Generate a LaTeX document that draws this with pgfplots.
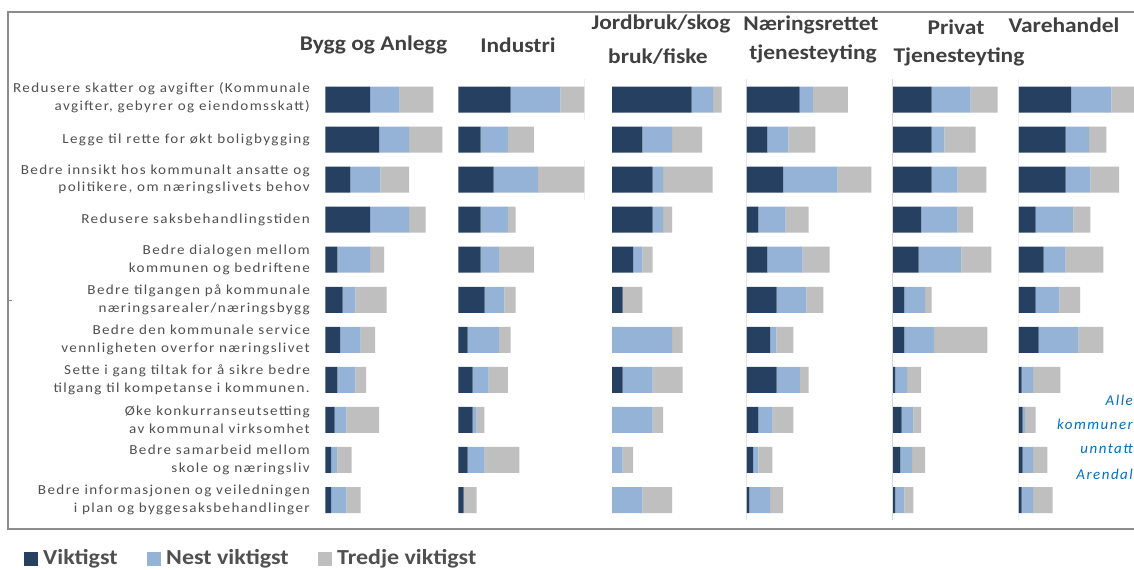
\documentclass[border=0pt]{standalone}
\usepackage{pgfplots}
\pgfplotsset{compat=1.18}
\usepackage{pgfplotstable}
\usepackage{fontspec}
\setmainfont{Carlito}
\newfontfamily\labfont[LetterSpace=10,FakeStretch=1.1]{Carlito}
\newfontfamily\titfont[FakeStretch=1.12]{Carlito}
\newfontfamily\notefont[LetterSpace=10]{Carlito}
\definecolor{cdark}{HTML}{254061}
\definecolor{clight}{HTML}{95B3D7}
\definecolor{cgray}{HTML}{BFBFBF}
\definecolor{labc}{HTML}{505050}
\definecolor{titc}{HTML}{404040}
\definecolor{notec}{HTML}{0070C0}
\definecolor{framec}{HTML}{8C8C8C}
\definecolor{axc}{HTML}{D9D9D9}

% values in pixel lengths of the original chart: Viktigst (a), Nest viktigst (b), Tredje viktigst (c)
\pgfplotstableread{
r a b c
1 44.7 29.7 33.7
2 53.7 30.0 33.3
3 25.0 30.0 28.7
4 44.7 39.0 16.7
5 12.0 32.7 14.0
6 17.3 12.7 31.3
7 14.7 20.7 14.3
8 12.0 18.0 10.7
9 9.3 11.7 32.7
10 5.7 6.3 14.3
11 5.7 15.3 14.3
}\tBygg
\pgfplotstableread{
r a b c
1 52.3 49.7 30.0
2 22.3 27.3 26.0
3 35.3 44.3 52.0
4 22.3 27.3 7.7
5 22.3 18.3 35.0
6 26.3 19.7 11.3
7 9.3 31.3 11.7
8 14.3 16.0 19.3
9 14.3 4.0 7.7
10 9.3 17.0 34.7
11 5.3 0.0 13.0
}\tInd
\pgfplotstableread{
r a b c
1 79.7 21.3 8.7
2 30.3 29.7 30.0
3 40.7 10.3 49.7
4 40.7 10.3 9.0
5 21.0 9.3 10.3
6 10.7 0.0 19.7
7 0.0 60.0 10.7
8 10.7 30.0 30.0
9 0.0 40.7 10.3
10 0.0 10.7 10.3
11 0.0 30.3 29.7
}\tJord
\pgfplotstableread{
r a b c
1 53.3 13.3 35.0
2 21.0 21.0 27.0
3 36.7 54.7 33.7
4 12.0 27.3 23.0
5 21.0 35.3 27.0
6 30.3 29.7 17.0
7 23.7 6.3 17.0
8 30.3 23.3 8.7
9 12.0 14.3 20.7
10 6.7 5.3 14.0
11 3.0 20.7 13.0
}\tNaer
\pgfplotstableread{
r a b c
1 39.7 39.0 27.0
2 39.7 12.7 31.3
3 39.7 26.0 28.7
4 29.0 36.7 15.3
5 26.7 42.7 30.0
6 12.3 20.7 6.7
7 12.3 29.7 53.3
8 3.0 12.0 14.0
9 9.7 11.7 7.7
10 8.3 11.7 13.0
11 3.0 9.3 9.0
}\tPriv
\pgfplotstableread{
r a b c
1 52.3 40.3 30.0
2 47.0 23.3 17.3
3 47.0 24.7 28.7
4 17.0 37.7 17.0
5 25.0 22.0 37.7
6 17.0 23.7 20.7
7 20.0 40.0 24.7
8 3.0 11.3 27.3
9 4.0 2.3 10.7
10 4.0 10.3 14.3
11 3.0 11.3 19.7
}\tVare

\pgfplotsset{panel/.style={xbar stacked, x=1bp, y=40.05bp, y dir=reverse,
  xmin=0, ymin=0.5, ymax=11.5, hide axis, bar width=26bp,
  anchor=north west, clip=true}}

\newcommand{\bars}[1]{%
  \addplot[fill=cdark, draw=none] table[x=a,y=r]{#1};
  \addplot[fill=clight, draw=none] table[x=b,y=r]{#1};
  \addplot[fill=cgray, draw=none] table[x=c,y=r]{#1};}

\begin{document}
\begin{tikzpicture}[x=1bp,y=1bp]
\useasboundingbox (0,0) rectangle (1134,570);
\begin{scope}
\clip (0,0) rectangle (1134,570);
\fill[white] (0,0) rectangle (1134,570);
\draw[framec, line width=1.5bp] (1140,558) -- (8,558) -- (8,41) -- (1140,41);
\draw[framec, line width=0.8bp] (8,270) -- (12,270);

\begin{axis}[panel, at={(325.3bp,490.5bp)}, xmax=130]
\bars{\tBygg}
\end{axis}
\begin{axis}[panel, at={(458.3bp,490.5bp)}, xmax=126]
\draw[axc, line width=1bp] (axis cs:126,0.41) -- (axis cs:126,1.5);
\draw[axc, line width=1bp] (axis cs:126,2.5) -- (axis cs:126,3.5);
\bars{\tInd}
\end{axis}
\begin{axis}[panel, at={(612bp,490.5bp)}, xmax=130]
\bars{\tJord}
\end{axis}
\begin{axis}[panel, at={(746.3bp,490.5bp)}, xmax=140]
\draw[axc, line width=1bp] (axis cs:0,0.41) -- (axis cs:0,11.5);
\bars{\tNaer}
\end{axis}
\begin{axis}[panel, at={(892bp,490.5bp)}, xmax=120]
\draw[axc, line width=1bp] (axis cs:0,0.41) -- (axis cs:0,11.5);
\bars{\tPriv}
\end{axis}
\begin{axis}[panel, at={(1018.7bp,490.5bp)}, xmax=115.3]
\draw[axc, line width=1bp] (axis cs:0,0.41) -- (axis cs:0,11.5);
\bars{\tVare}
\end{axis}

% category labels
\begin{scope}[every node/.style={anchor=east, align=right, inner sep=0pt, text=labc,
   font=\labfont\fontsize{13.8}{17.5}\selectfont}]
\node at (310,472.5) {Redusere skatter og avgifter (Kommunale\\avgifter, gebyrer og eiendomsskatt)};
\node at (310,430.45) {Legge til rette for økt boligbygging};
\node at (310,390.4) {Bedre innsikt hos kommunalt ansatte og\\politikere, om næringslivets behov};
\node at (310,350.35) {Redusere saksbehandlingstiden};
\node at (310,310.3) {Bedre dialogen mellom\\kommunen og bedriftene};
\node at (310,270.25) {Bedre tilgangen på kommunale\\næringsarealer/næringsbygg};
\node at (310,230.2) {Bedre den kommunale service\\vennligheten overfor næringslivet};
\node at (310,190.15) {Sette i gang tiltak for å sikre bedre\\tilgang til kompetanse i kommunen.};
\node at (310,150.1) {Øke konkurranseutsetting\\av kommunal virksomhet};
\node at (310,110.05) {Bedre samarbeid mellom\\skole og næringsliv};
\node at (310,70) {Bedre informasjonen og veiledningen\\i plan og byggesaksbehandlinger};
\end{scope}

% panel titles
\begin{scope}[every node/.style={inner sep=0pt, text=titc,
   font=\titfont\bfseries\fontsize{21}{24}\selectfont}]
\node at (373.5,525) {Bygg og Anlegg};
\node at (518,525) {Industri};
\node at (661,546) {Jordbruk/skog};
\node at (658,513) {bruk/fiske};
\node at (811,545) {Næringsrettet};
\node at (813,516) {tjenesteyting};
\node at (956,543) {Privat};
\node at (959,513) {Tjenesteyting};
\node at (1064,545) {Varehandel};
\end{scope}

% note
\begin{scope}[every node/.style={anchor=east, inner sep=0pt, text=notec,
   font=\notefont\itshape\fontsize{15}{17}\selectfont}]
\node at (1133,170) {Alle};
\node at (1133,146) {kommuner};
\node at (1133,121) {unntatt};
\node at (1133,96) {Arendal};
\end{scope}

% legend
\fill[cdark] (24,4) rectangle (38,18);
\fill[clight] (147,4) rectangle (161,18);
\fill[cgray] (318,4) rectangle (332,18);
\begin{scope}[every node/.style={anchor=west, inner sep=0pt, text=labc,
   font=\titfont\bfseries\fontsize{21.5}{24}\selectfont}]
\node at (43,11) {Viktigst};
\node at (166,11) {Nest viktigst};
\node at (337,11) {Tredje viktigst};
\end{scope}
\end{scope}
\end{tikzpicture}
\end{document}
